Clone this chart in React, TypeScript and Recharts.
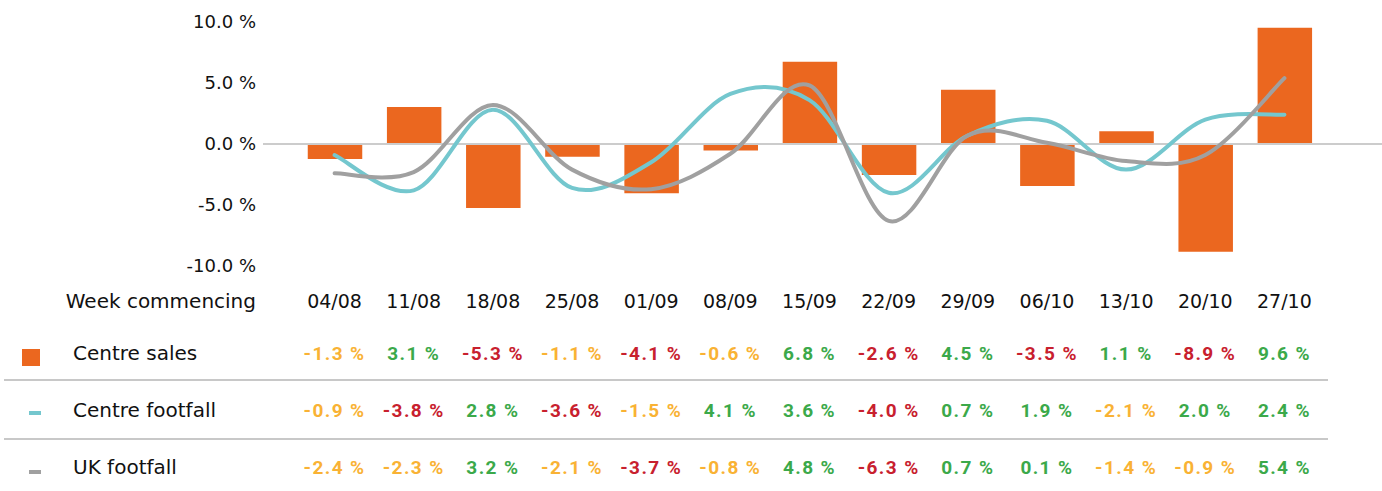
import React from "react";
import {
  Bar,
  ComposedChart,
  Line,
  ReferenceLine,
  XAxis,
  YAxis,
} from "recharts";

const weeks = [
  "04/08", "11/08", "18/08", "25/08", "01/09", "08/09", "15/09",
  "22/09", "29/09", "06/10", "13/10", "20/10", "27/10",
];
const centreSales = [-1.3, 3.1, -5.3, -1.1, -4.1, -0.6, 6.8, -2.6, 4.5, -3.5, 1.1, -8.9, 9.6];
const centreFootfall = [-0.9, -3.8, 2.8, -3.6, -1.5, 4.1, 3.6, -4.0, 0.7, 1.9, -2.1, 2.0, 2.4];
const ukFootfall = [-2.4, -2.3, 3.2, -2.1, -3.7, -0.8, 4.8, -6.3, 0.7, 0.1, -1.4, -0.9, 5.4];
const yTicks = [-10, -5, 0, 5, 10];

const rows = [
  { key: "sales", label: "Centre sales", values: centreSales },
  { key: "centre", label: "Centre footfall", values: centreFootfall },
  { key: "uk", label: "UK footfall", values: ukFootfall },
];

const data = weeks.map((week, i) => ({
  week,
  sales: centreSales[i],
  centre: centreFootfall[i],
  uk: ukFootfall[i],
}));

const ORANGE = "#EB671F";
const TEAL = "#74C7CE";
const GREY = "#A0A0A0";
const LABEL_FONT = "'DejaVu Sans', sans-serif";
const VALUE_FONT = "Roboto, sans-serif";

function valueColor(v: number) {
  if (v >= 0) return "#3BA94A";
  if (v > -2.5) return "#F9B234";
  return "#C8202E";
}

// Excel-style smoothed line (uniform Catmull-Rom)
function smoothCurve(ctx: any) {
  let pts: number[][] = [];
  return {
    areaStart() {},
    areaEnd() {},
    lineStart() {
      pts = [];
    },
    point(x: number, y: number) {
      pts.push([+x, +y]);
    },
    lineEnd() {
      if (!pts.length) return;
      ctx.moveTo(pts[0][0], pts[0][1]);
      for (let i = 0; i < pts.length - 1; i++) {
        const p0 = pts[i - 1] || pts[i];
        const p1 = pts[i];
        const p2 = pts[i + 1];
        const p3 = pts[i + 2] || p2;
        ctx.bezierCurveTo(
          p1[0] + (p2[0] - p0[0]) / 6,
          p1[1] + (p2[1] - p0[1]) / 6,
          p2[0] - (p3[0] - p1[0]) / 6,
          p2[1] - (p3[1] - p1[1]) / 6,
          p2[0],
          p2[1]
        );
      }
    },
  };
}

function WeekTick(props: any) {
  const { x, y, payload } = props;
  const i = weeks.indexOf(payload.value);
  return (
    <g>
      <text
        x={x}
        y={y + 35}
        textAnchor="middle"
        dominantBaseline="central"
        fontFamily={LABEL_FONT}
        fontSize={19}
        fill="#111"
      >
        {payload.value}
      </text>
      {rows.map((r, k) => {
        const v = r.values[i];
        return (
          <text
            key={r.key}
            x={x}
            y={y + 87 + k * 57}
            textAnchor="middle"
            dominantBaseline="central"
            fontFamily={VALUE_FONT}
            fontWeight={700}
            fontSize={19}
            letterSpacing={1.4}
            fill={valueColor(v)}
          >
            {v.toFixed(1)} %
          </text>
        );
      })}
    </g>
  );
}

export default function App() {
  return (
    <div
      style={{
        position: "absolute",
        left: 0,
        top: 0,
        width: 1382,
        height: 491,
        background: "#fff",
        fontFamily: LABEL_FONT,
      }}
    >
      <ComposedChart
        width={1382}
        height={491}
        data={data}
        margin={{ top: 22, right: 0, bottom: 0, left: 0 }}
        barSize={56}
      >
        <XAxis
          dataKey="week"
          height={225}
          padding={{ left: 32, right: 58 }}
          axisLine={false}
          tickLine={false}
          tickSize={0}
          tickMargin={0}
          interval={0}
          tick={<WeekTick />}
        />
        <YAxis
          width={263}
          domain={[-10, 10]}
          ticks={yTicks}
          axisLine={false}
          tickLine={false}
          tickSize={0}
          tickMargin={7}
          tickFormatter={(v: number) => `${v.toFixed(1)} %`}
          tick={{ fill: "#111", fontSize: 18, fontFamily: LABEL_FONT }}
        />
        <Bar
          dataKey="sales"
          fill={ORANGE}
          stroke="#ffffff"
          strokeWidth={1.5}
          isAnimationActive={false}
        />
        <ReferenceLine y={0} stroke="#CCCCCC" strokeWidth={2} />
        <Line
          dataKey="centre"
          type={smoothCurve as any}
          stroke={TEAL}
          strokeWidth={4}
          strokeLinecap="round"
          dot={false}
          activeDot={false}
          isAnimationActive={false}
        />
        <Line
          dataKey="uk"
          type={smoothCurve as any}
          stroke={GREY}
          strokeWidth={4}
          strokeLinecap="round"
          dot={false}
          activeDot={false}
          isAnimationActive={false}
        />
      </ComposedChart>

      <div
        style={{
          position: "absolute",
          right: 1382 - 256,
          top: 288,
          fontSize: 20,
          lineHeight: "26px",
          color: "#111",
          whiteSpace: "nowrap",
        }}
      >
        Week commencing
      </div>

      {rows.map((r, k) => (
        <div
          key={r.key}
          style={{
            position: "absolute",
            left: 73,
            top: 340 + k * 57,
            fontSize: 20,
            lineHeight: "26px",
            color: "#111",
            whiteSpace: "nowrap",
          }}
        >
          {r.label}
        </div>
      ))}

      <div style={{ position: "absolute", left: 22, top: 349, width: 18, height: 17, background: ORANGE }} />
      <div style={{ position: "absolute", left: 29, top: 411, width: 12, height: 4, background: TEAL }} />
      <div style={{ position: "absolute", left: 29, top: 470, width: 12, height: 4, background: GREY }} />

      <div style={{ position: "absolute", left: 4, top: 379, width: 1324, height: 1.5, background: "#C8C8C8" }} />
      <div style={{ position: "absolute", left: 4, top: 438, width: 1324, height: 1.5, background: "#C8C8C8" }} />
    </div>
  );
}
